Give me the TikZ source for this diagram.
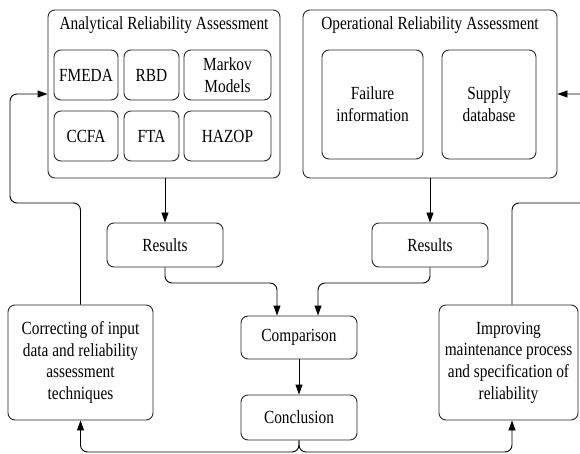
\documentclass[tikz,border=0pt]{standalone}
\usepackage{fontspec}
\setmainfont{Liberation Serif}[FakeStretch=0.83]
\usetikzlibrary{arrows.meta}
\begin{document}
\begin{tikzpicture}[x=1pt,y=-1pt,
  font=\fontsize{18.5}{21.7}\selectfont,
  box/.style={draw=black!85, line width=0.9pt, rounded corners=7pt, align=center, inner sep=0pt},
  arr/.style={draw, line width=0.9pt, rounded corners=7pt, -{Triangle[length=10pt,width=7pt]}},
  ln/.style={draw, line width=0.9pt, rounded corners=7pt}]
\useasboundingbox (0,0) rectangle (580,454);
\clip (0,0) rectangle (580,454);
% containers
\node[box, minimum width=232pt, minimum height=168pt] (A) at (164,94) {};
\node (At) at (164,25) {Analytical Reliability Assessment};
\node[box, minimum width=64pt, minimum height=50pt] (fmeda) at (86,75) {FMEDA};
\node[box, minimum width=55pt, minimum height=50pt] (rbd) at (151.5,75) {RBD};
\node[box, minimum width=87pt, minimum height=50pt] (markov) at (227.5,75) {Markov\\Models};
\node[box, minimum width=64pt, minimum height=50pt] (ccfa) at (86,136) {CCFA};
\node[box, minimum width=55pt, minimum height=50pt] (fta) at (151.5,136) {FTA};
\node[box, minimum width=87pt, minimum height=50pt] (hazop) at (227.5,136) {HAZOP};

\node[box, minimum width=254pt, minimum height=168pt] (O) at (430,94) {};
\node (Ot) at (430,25) {Operational Reliability Assessment};
\node[box, minimum width=101pt, minimum height=109pt] (fail) at (372.5,104.5) {Failure\\information};
\node[box, minimum width=94pt, minimum height=109pt] (supp) at (489,104.5) {Supply\\database};

\node[box, minimum width=116pt, minimum height=44pt] (resL) at (165,245) {Results};
\node[box, minimum width=116pt, minimum height=44pt] (resR) at (430,245) {Results};
\node[box, minimum width=116pt, minimum height=43pt] (comp) at (299,337.5) {Comparison};
\node[box, minimum width=116pt, minimum height=45pt] (conc) at (299,417.5) {Conclusion};
\node[box, minimum width=145pt, minimum height=115pt] (corr) at (80.5,362.5) {Correcting of input\\data and reliability\\assessment\\techniques};
\node[box, minimum width=139pt, minimum height=115pt] (imp) at (508.5,362.5) {Improving\\maintenance process\\and specification of\\reliability};

% helper coordinates
\coordinate (cl) at (277,283);
\coordinate (cr) at (318,283);
\coordinate (bot) at (0,452);
\coordinate (lc) at (10,203);
\coordinate (rc) at (592,203);
\coordinate (impx) at (512,0);

% connectors
\draw[arr] (resL.north |- A.south) -- (resL.north);
\draw[arr] (resR.north |- O.south) -- (resR.north);
\draw[arr] (resL.south) |- (cl) -- (cl |- comp.north);
\draw[arr] (resR.south) |- (cr) -- (cr |- comp.north);
\draw[arr] (comp.south) -- (conc.north);
\draw[arr] (conc.south) -- (conc.south |- bot) -| (corr.south);
\draw[arr] (conc.south) -- (conc.south |- bot) -| (impx |- imp.south);
\draw[arr] (corr.north) |- (lc) |- (A.west);
\draw[arr] (impx |- imp.north) |- (rc) |- (O.east);
\end{tikzpicture}
\end{document}
